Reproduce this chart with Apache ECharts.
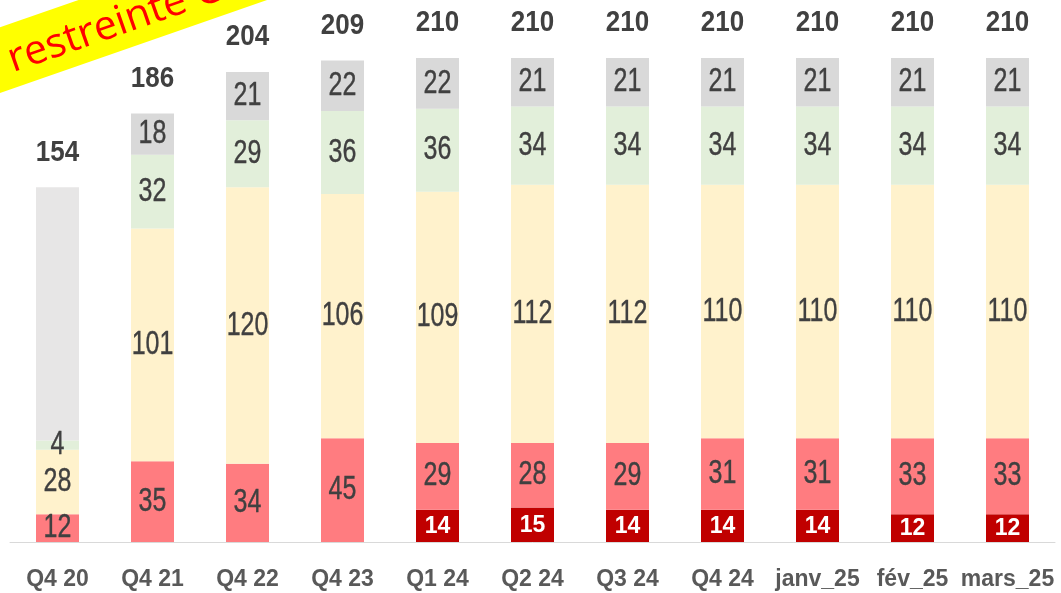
<!DOCTYPE html>
<html><head><meta charset="utf-8">
<script src="https://cdn.jsdelivr.net/npm/echarts@6/dist/echarts.min.js"></script>
<style>html,body{margin:0;padding:0;background:#fff}#c{width:1061px;height:593px}</style>
</head><body><div id="c"></div>
<script>
var categories = ['Q4 20','Q4 21','Q4 22','Q4 23','Q1 24','Q2 24','Q3 24','Q4 24','janv_25','fév_25','mars_25'];
var darkRed = ['-','-','-','-',14,15,14,14,14,12,12];
var lightRed = [12,35,34,45,29,28,29,31,31,33,33];
var yellow = [28,101,120,106,109,112,112,110,110,110,110];
var green = [4,32,29,36,36,34,34,34,34,34,34];
var grey = ['-',18,21,22,22,21,21,21,21,21,21];
var greyOld = [110,'-','-','-','-','-','-','-','-','-','-'];
var totals = [154,186,204,209,210,210,210,210,210,210,210];

var FONT = '"Liberation Sans",Arial,sans-serif';

// Build label items from the arrays: [categoryIndex, segment middle value, label value, kind]
var stackOrder = [darkRed, lightRed, yellow, green, grey];
var labelItems = [];
for (var i = 0; i < categories.length; i++) {
  var base = 0;
  for (var s = 0; s < stackOrder.length; s++) {
    var v = stackOrder[s][i];
    if (v === '-') continue;
    labelItems.push([i, base + v / 2, v, s === 0 ? 0 : 1]);
    base += v;
  }
  labelItems.push([i, totals[i], totals[i], 2]);
}

function seg(name, data, color) {
  return {
    name: name, type: 'bar', stack: 'a', data: data, barWidth: 43,
    itemStyle: { color: color }, label: { show: false },
    emphasis: { disabled: true }, animation: false
  };
}
var chart = echarts.init(document.getElementById('c'), null, { renderer: 'canvas' });
var rot = 19.2 * Math.PI / 180;
chart.setOption({
  animation: false,
  grid: { left: 10, right: 6, top: 12, bottom: 51, containLabel: false },
  xAxis: {
    type: 'category', data: categories,
    axisLine: { lineStyle: { color: '#d9d9d9', width: 1 } },
    axisTick: { show: false },
    axisLabel: { color: '#595959', fontFamily: FONT, fontWeight: 'bold', fontSize: 23, margin: 26, interval: 0 }
  },
  yAxis: { type: 'value', min: 0, max: 230, show: false, splitLine: { show: false } },
  series: [
    seg('Très critique', darkRed, '#c00000'),
    seg('Critique', lightRed, '#ff7c80'),
    seg('Moyen', yellow, '#fff2cc'),
    seg('Faible', green, '#e2efda'),
    seg('Autre', grey, '#d9d9d9'),
    seg('Non classé', greyOld, '#e7e6e6'),
    {
      name: 'labels', type: 'custom', data: labelItems, z: 10, clip: false,
      encode: { x: 0, y: 1 }, silent: true, animation: false,
      renderItem: function (params, api) {
        var kind = api.value(3);
        var p = api.coord([api.value(0), api.value(1)]);
        var txt = String(api.value(2));
        if (kind === 0) {
          return { type: 'text', x: p[0], y: p[1], scaleY: 1.07,
            style: { text: txt, fill: '#ffffff', font: 'bold 23px ' + FONT, align: 'center', verticalAlign: 'middle' } };
        } else if (kind === 1) {
          return { type: 'text', x: p[0], y: p[1], scaleY: 1.33,
            style: { text: txt, fill: '#404040', font: '25px ' + FONT, align: 'center', verticalAlign: 'middle',
                     stroke: '#404040', lineWidth: 0.3 } };
        }
        return { type: 'text', x: p[0], y: p[1] - 35, scaleY: 1.17,
          style: { text: txt, fill: '#404040', font: 'bold 26px ' + FONT, align: 'center', verticalAlign: 'middle' } };
      }
    }
  ],
  graphic: [{
    type: 'group', x: 0, y: 93, rotation: rot, z: 100,
    children: [
      { type: 'rect', shape: { x: -100, y: -62, width: 700, height: 62 }, style: { fill: '#ffff00' } },
      { type: 'text', x: 19, y: -27, style: { text: 'restreinte C2', fill: '#ff0000',
          font: '41px "Open Sans", sans-serif', verticalAlign: 'middle', align: 'left' } }
    ]
  }]
});
</script></body></html>
